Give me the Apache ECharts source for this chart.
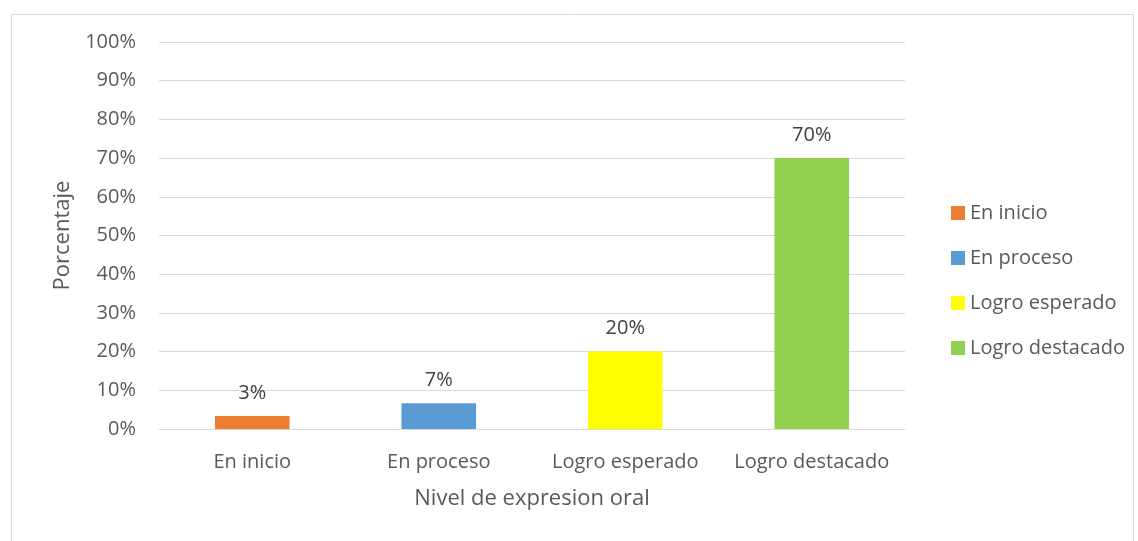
<!DOCTYPE html>
<html>
<head>
<meta charset="utf-8">
<script src="https://cdn.jsdelivr.net/npm/echarts@6/dist/echarts.min.js"></script>
<style>
  html, body { margin: 0; padding: 0; background: #fff; }
  #chart { width: 1138px; height: 541px; }
</style>
</head>
<body>
<div id="chart"></div>
<script>
const categories = ["En inicio", "En proceso", "Logro esperado", "Logro destacado"];
const values = [3.33, 6.67, 20, 70];
const labels = ["3%", "7%", "20%", "70%"];
const colors = ["#ED7D31", "#5B9BD5", "#FFFF00", "#92D050"];

const font = "Open Sans";

const chart = echarts.init(document.getElementById("chart"));

// one series per category so each gets its own legend entry
const series = categories.map((name, i) => ({
  name: name,
  type: "bar",
  stack: "all",
  barWidth: "40%",
  itemStyle: { color: colors[i] },
  data: categories.map((c, j) => (j === i ? values[i] : "-")),
  label: {
    show: true,
    position: "top",
    distance: 13,
    color: "#404040",
    fontFamily: font,
    fontSize: 20,
    formatter: () => labels[i],
  },
}));

chart.setOption({
  animation: false,
  textStyle: { fontFamily: font },
  graphic: [
    {
      type: "rect",
      left: 9,
      top: 12,
      shape: { width: 1122, height: 560 },
      style: { fill: "none", stroke: "#D9D9D9", lineWidth: 1 },
      z: -1,
    },
  ],
  grid: { left: 159, right: 233, top: 42, bottom: 112 },
  legend: {
    orient: "vertical",
    left: 946,
    top: 198,
    itemWidth: 14,
    itemHeight: 14,
    itemGap: 25,
    icon: "rect",
    textStyle: { color: "#595959", fontSize: 20, fontFamily: font },
    data: categories,
  },
  xAxis: {
    type: "category",
    data: categories,
    name: "Nivel de expresion oral",
    nameLocation: "middle",
    nameGap: 59,
    nameTextStyle: { color: "#595959", fontSize: 22, fontFamily: font },
    axisLine: { lineStyle: { color: "#D9D9D9", width: 1 } },
    axisTick: { show: false },
    axisLabel: { color: "#595959", fontSize: 20, margin: 23, interval: 0, hideOverlap: false, fontFamily: font },
  },
  yAxis: {
    type: "value",
    min: 0,
    max: 100,
    interval: 10,
    name: "Porcentaje",
    nameLocation: "middle",
    nameGap: 85,
    nameTextStyle: { color: "#595959", fontSize: 22, fontFamily: font },
    axisLine: { show: false },
    axisTick: { show: false },
    axisLabel: { color: "#595959", fontSize: 20, margin: 23, formatter: "{value}%", fontFamily: font },
    splitLine: { lineStyle: { color: "#D9D9D9", width: 1 } },
  },
  series: series,
});
</script>
</body>
</html>
